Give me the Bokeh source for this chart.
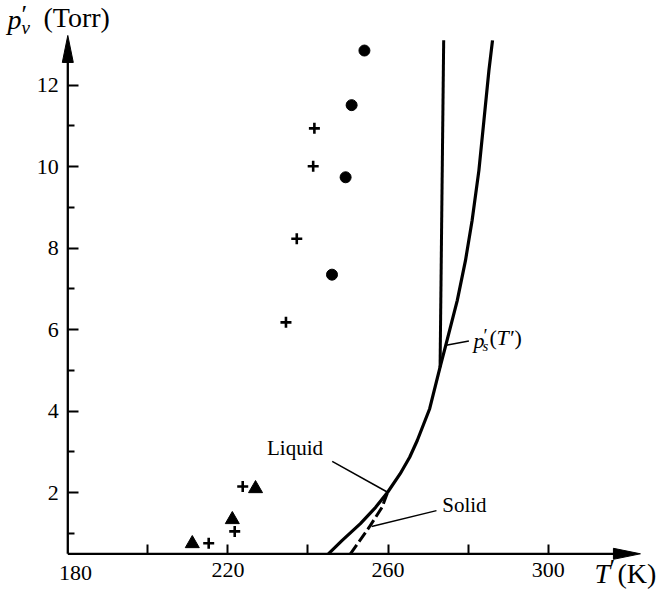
from bokeh.plotting import figure
from bokeh.models import Range1d, LinearAxis, FixedTicker, Label, Grid
from bokeh.embed import file_html
from bokeh.resources import INLINE

# ---------------- data ----------------
circle_T = [254.1, 250.9, 249.4, 246.0]
circle_p = [12.85, 11.51, 9.74, 7.35]

plus_T = [241.6, 241.3, 237.2, 234.5, 215.2, 221.7, 223.7]
plus_p = [10.94, 10.01, 8.23, 6.18, 0.76, 1.05, 2.15]

tri_T = [211.1, 221.1, 226.9]
tri_p = [0.75, 1.34, 2.10]

liquid_T = [245.1, 248.55, 253.1, 256.9, 259.9, 263.0, 265.4, 267.3, 270.4,
            273.0, 274.4, 277.3, 279.35, 281.0, 282.7, 283.95, 285.2, 286.1]
liquid_p = [0.5, 0.83, 1.24, 1.64, 2.01, 2.46, 2.87, 3.28, 4.06,
            5.08, 5.61, 6.72, 7.70, 8.68, 9.91, 11.13, 12.36, 13.10]

solid_T = [250.6, 255.2, 258.5, 259.9]
solid_p = [0.5, 1.14, 1.64, 2.01]

branch_T = [273.0, 273.9]
branch_p = [5.08, 13.10]

# leader lines for the labels: Liquid, Solid, p_s(T)
leader_T0 = [246.05, 272.1, 280.2]
leader_p0 = [2.77, 1.56, 5.72]
leader_T1 = [259.9, 255.9, 274.5]
leader_p1 = [2.01, 1.17, 5.62]

x_major = [220, 260, 300]
x_minor = [200, 240, 280]
y_major = [2, 4, 6, 8, 10, 12]
y_minor = [1, 3, 5, 7, 9, 11]

T_origin, p_origin = 180.0, 0.5
T_end, p_end = 323.05, 13.22

# ---------------- layout calibration ----------------
W, H = 662, 589
X0_PX, Y0_PX = 67.3, 553.3
PX_PER_K, PX_PER_TORR = 4.003, 40.75


def tx(px):
    return T_origin + (px - X0_PX) / PX_PER_K


def py(pyx):
    return p_origin + (Y0_PX - pyx) / PX_PER_TORR


p = figure(width=W, height=H,
           x_range=Range1d(tx(0), tx(W)), y_range=Range1d(py(H), py(0)),
           output_backend="svg", toolbar_location=None,
           x_axis_location=None, y_axis_location=None, min_border=0)
p.title.visible = False
p.outline_line_color = None
p.background_fill_color = "white"
p.border_fill_color = "white"
p.center = [r for r in p.center if not isinstance(r, Grid)]

FONT = "Liberation Serif"

xaxis = LinearAxis(fixed_location=p_origin,
                   ticker=FixedTicker(ticks=x_major, minor_ticks=x_minor))
yaxis = LinearAxis(fixed_location=T_origin,
                   ticker=FixedTicker(ticks=y_major, minor_ticks=y_minor))
for ax in (xaxis, yaxis):
    ax.axis_line_color = None
    ax.major_tick_out = 0
    ax.minor_tick_out = 0
    ax.major_tick_line_width = 2
    ax.minor_tick_line_width = 2
    ax.major_tick_line_color = "black"
    ax.minor_tick_line_color = "black"
    ax.major_label_text_font = FONT
    ax.major_label_text_font_size = "22px"
    ax.major_label_text_color = "black"
xaxis.major_tick_in = 9
xaxis.minor_tick_in = 9
xaxis.major_label_standoff = 9
yaxis.major_tick_in = 11
yaxis.minor_tick_in = 7
yaxis.major_label_standoff = 9
p.add_layout(xaxis, "below")
p.add_layout(yaxis, "left")

# axis lines with arrow heads
hx = 27 / PX_PER_K
hy = 27 / PX_PER_TORR
wx = 5.5 / PX_PER_K
wy = 5.5 / PX_PER_TORR
p.segment(x0=[T_origin, T_origin], y0=[p_origin, p_origin],
          x1=[T_end - hx * 0.5, T_origin], y1=[p_origin, p_end - hy * 0.5],
          line_width=2.3, line_color="black")
p.patches(xs=[[T_end, T_end - hx, T_end - hx], [T_origin, T_origin - wx, T_origin + wx]],
          ys=[[p_origin, p_origin + wy, p_origin - wy], [p_end, p_end - hy, p_end - hy]],
          fill_color="black", line_color="black", line_width=1)

# curves
p.line(liquid_T, liquid_p, line_width=3.2, line_color="black", line_join="round")
p.line(solid_T, solid_p, line_width=3, line_color="black", line_dash="11 4")
p.line(branch_T, branch_p, line_width=3, line_color="black")
p.segment(x0=leader_T0, y0=leader_p0, x1=leader_T1, y1=leader_p1,
          line_width=1.5, line_color="black")

# measurements
p.scatter(circle_T, circle_p, marker="circle", size=11, color="black")
p.scatter(plus_T, plus_p, marker="cross", size=11, line_width=2.6, color="black")
p.scatter(tri_T, tri_p, marker="triangle", size=14, color="black")


def lab(text, x, y, size, style="normal", align="left"):
    p.add_layout(Label(x=tx(x), y=py(y), text=text, text_font=FONT,
                       text_font_size=f"{size}px", text_font_style=style,
                       text_align=align, text_baseline="middle",
                       text_color="black"))


# x tick label at the origin
lab("180", 75, 572, 22, align="center")

# y axis title  p'_v (Torr)
lab("p", 7, 19, 28, "italic")
lab("\u2032", 21, 14, 26)
lab("v", 21, 27, 19, "italic")
lab("(Torr)", 43, 17, 28)

# x axis title  T'(K)
lab("T", 594, 573, 28, "italic")
lab("\u2032", 609, 568, 26)
lab("(K)", 617, 573, 28)

# curve labels
lab("Liquid", 294.5, 447, 21, align="center")
lab("Solid", 441.7, 504, 21)
lab("p", 473, 340, 22, "italic")
lab("\u2032", 483, 335, 19)
lab("s", 482, 345, 15, "italic")
lab("(", 489, 337, 22)
lab("T\u2032", 496, 337, 22, "italic")
lab(")", 514, 337, 22)

open("out.html", "w").write(file_html(p, INLINE))
